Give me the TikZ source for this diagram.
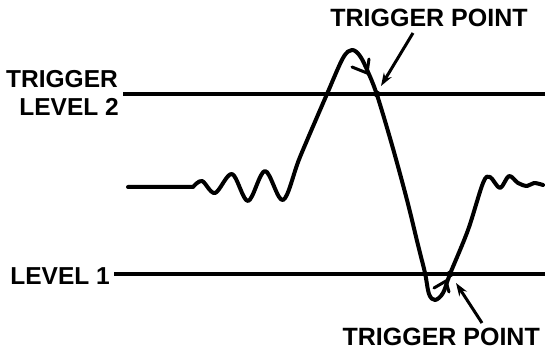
\documentclass[tikz,border=0pt]{standalone}
\usepackage{fontspec}
\setmainfont{Liberation Sans}
\usetikzlibrary{arrows.meta}
\begin{document}
\begin{tikzpicture}[x=1pt,y=-1pt,
  lbl/.style={font=\fontsize{24.5}{26}\selectfont\bfseries, inner sep=0pt},
  tplbl/.style={lbl, font=\fontsize{25}{27}\selectfont\bfseries},
  level/.style={line width=3.2pt},
  wave/.style={line width=4pt, line cap=round, line join=round},
  ptr/.style={line width=3pt, -{Stealth[length=13pt,width=9pt]}},
  tick/.style={line width=3pt, line cap=round}]
\useasboundingbox (0,0) rectangle (545,352);
% labels
\node[lbl, anchor=east] (trig) at (118,79) {TRIGGER};
\node[lbl, anchor=east] (lev2) at (119,107) {LEVEL 2};
\node[lbl, anchor=east] (lev1) at (110,276) {LEVEL 1};
\node[tplbl] (tp1) at (429,18) {TRIGGER POINT};
\node[tplbl, anchor=east] (tp2) at (540,337) {TRIGGER POINT};
% level lines
\coordinate (l2a) at (123,94);
\coordinate (l2b) at (545,94);
\coordinate (l1a) at (114,274);
\coordinate (l1b) at (545,274);
\draw[level] (l2a) -- (l2b);
\draw[level] (l1a) -- (l1b);
% waveform
\draw[wave] (128,187) -- (193,187)
  plot[smooth, tension=0.55] coordinates {(193,187) (202,181) (215,193) (232,174) (248,201) (265,171) (283,200) (300,157) (327,94) (343,58) (352,50) (360,56) (368,72) (377,95) (392,145) (407,200) (418,245) (425,273) (429,294) (435,300) (443,293) (450,274) (468,230) (483,183) (490,177) (500,188) (509,176) (518,183) (527,186) (534,183) (543,185)};
% direction ticks on the waveform
\coordinate (k1) at (367,73);
\draw[tick] (352,67) -- (k1) -- (369,59);
\coordinate (k2) at (446,281);
\draw[tick] (434,288) -- (k2) -- (449,292);
% crossing dots
\coordinate (p1) at (377,94);
\coordinate (p2) at (450,274);
\fill (p1) circle (3.4pt);
\fill (p2) circle (3.4pt);
% pointer arrows
\coordinate (a1) at (413,33);
\coordinate (e1) at (381,86);
\coordinate (a2) at (482,323);
\coordinate (e2) at (456,283);
\draw[ptr] (a1) -- (e1);
\draw[ptr] (a2) -- (e2);
\end{tikzpicture}
\end{document}
